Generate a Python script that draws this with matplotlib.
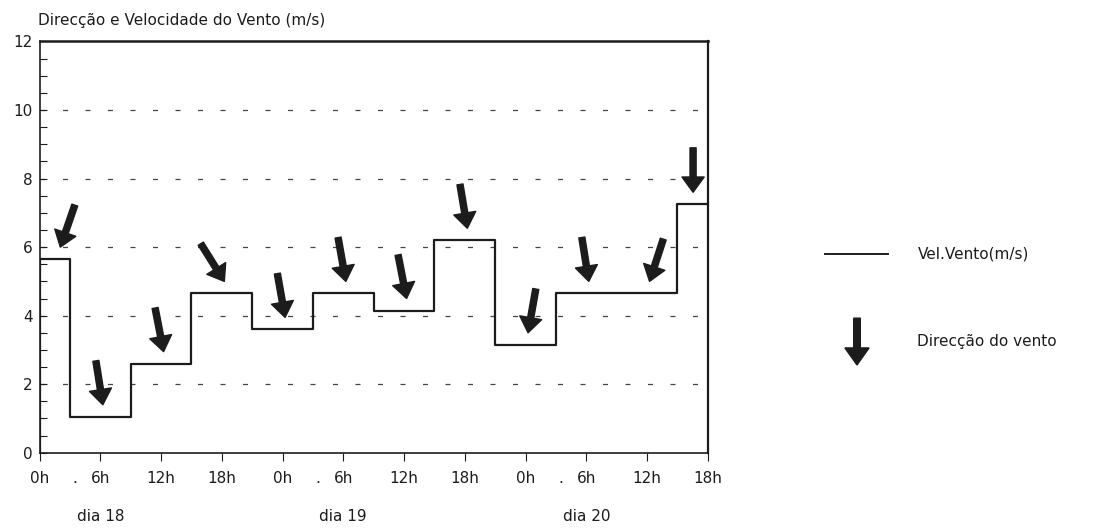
import numpy as np
import matplotlib
matplotlib.use("Agg")
import matplotlib.pyplot as plt
from matplotlib.ticker import MultipleLocator

plt.rcParams["font.family"] = ["DejaVu Sans"]

# Wind observations every 6 hours, 0h day 18 .. 18h day 20
hours = [0, 6, 12, 18, 24, 30, 36, 42, 48, 54, 60, 66]
speed = [5.65, 1.05, 2.6, 4.65, 3.6, 4.65, 4.15, 6.2, 3.15, 4.65, 4.65, 7.25]
# arrow tilt from straight down, degrees (positive = pointing to the right)
direction_tilt = [-19, 9, 11, 32, 10, 10, 11, 9.5, -10, 9, -18, 0]

tick_labels = ["0h", "6h", "12h", "18h", "0h", "6h", "12h", "18h", "0h", "6h", "12h", "18h"]
days = ["dia 18", "dia 19", "dia 20"]
day_centres = [6, 30, 54]

ink = "#1c1c1c"
fs = 11

fig = plt.figure(figsize=(10.99, 5.32), dpi=100)
ax = fig.add_axes([0.036, 0.149, 0.608, 0.773])

# wind speed as a step curve centred on each observation
ax.step(hours, speed, where="mid", color=ink, lw=1.6, zorder=3)
ax.plot([hours[0], hours[0]], [0, speed[0]], color=ink, lw=1.6, zorder=3)

ax.set_xlim(0, 66)
ax.set_ylim(0, 12)

# dashed grid
for g in [2, 4, 6, 8, 10]:
    ax.axhline(g, color="#444444", lw=0.9, dashes=(4, 14), zorder=1)

ax.set_yticks([0, 2, 4, 6, 8, 10, 12])
ax.yaxis.set_minor_locator(MultipleLocator(0.5))
ax.tick_params(axis="y", which="both", direction="in", length=5, width=0.8,
               colors=ink, labelsize=fs, pad=5)
ax.set_xticks(hours)
ax.set_xticklabels(tick_labels)
ax.tick_params(axis="x", direction="out", length=6, width=0.8, colors=ink,
               labelsize=fs, pad=7)

for s in ax.spines.values():
    s.set_color(ink)
    s.set_linewidth(1.2)
ax.spines["top"].set_linewidth(1.8)
ax.spines["right"].set_linewidth(1.6)

# small dots before the 6h labels
for dc in day_centres:
    ax.annotate(".", xy=(dc, 0), xycoords="data", xytext=(-18, -13),
                textcoords="offset points", ha="center", va="top",
                fontsize=fs, color=ink, annotation_clip=False)

for d, dc in zip(days, day_centres):
    ax.annotate(d, xy=(dc, 0), xycoords="data", xytext=(0, -46),
                textcoords="offset points", ha="center", va="center",
                fontsize=fs, color=ink, annotation_clip=False)

# wind direction arrows above each step
arrow_len = 32
arrow_props = dict(facecolor=ink, edgecolor=ink, width=4.4, headwidth=16,
                   headlength=11, shrink=0)
for h, v, a in zip(hours, speed, direction_tilt):
    r = np.radians(a)
    dx, dy = np.sin(r) * arrow_len, np.cos(r) * arrow_len
    xc = min(max(h, 1.8), 64.3)
    ax.annotate("", xy=(xc + 0.25, v + 0.35), xycoords="data",
                xytext=(-dx, dy), textcoords="offset points",
                arrowprops=arrow_props, annotation_clip=False, zorder=4)

fig.text(0.035, 0.962, "Direcção e Velocidade do Vento (m/s)", fontsize=fs,
         color=ink, ha="left", va="center")

# legend
fig.add_artist(plt.Line2D([0.7507, 0.808], [0.5226, 0.5226], color=ink, lw=1.4,
                          transform=fig.transFigure))
fig.text(0.835, 0.5226, "Vel.Vento(m/s)", fontsize=fs, color=ink,
         ha="left", va="center")
fig.add_artist(matplotlib.patches.FancyArrow(
    0.7798, 0.402, 0, -0.088, width=0.006, head_width=0.022, head_length=0.032,
    length_includes_head=True, color=ink, transform=fig.transFigure))
fig.text(0.834, 0.359, "Direcção do vento", fontsize=fs, color=ink,
         ha="left", va="center")

fig.savefig("out.png", dpi=100)
